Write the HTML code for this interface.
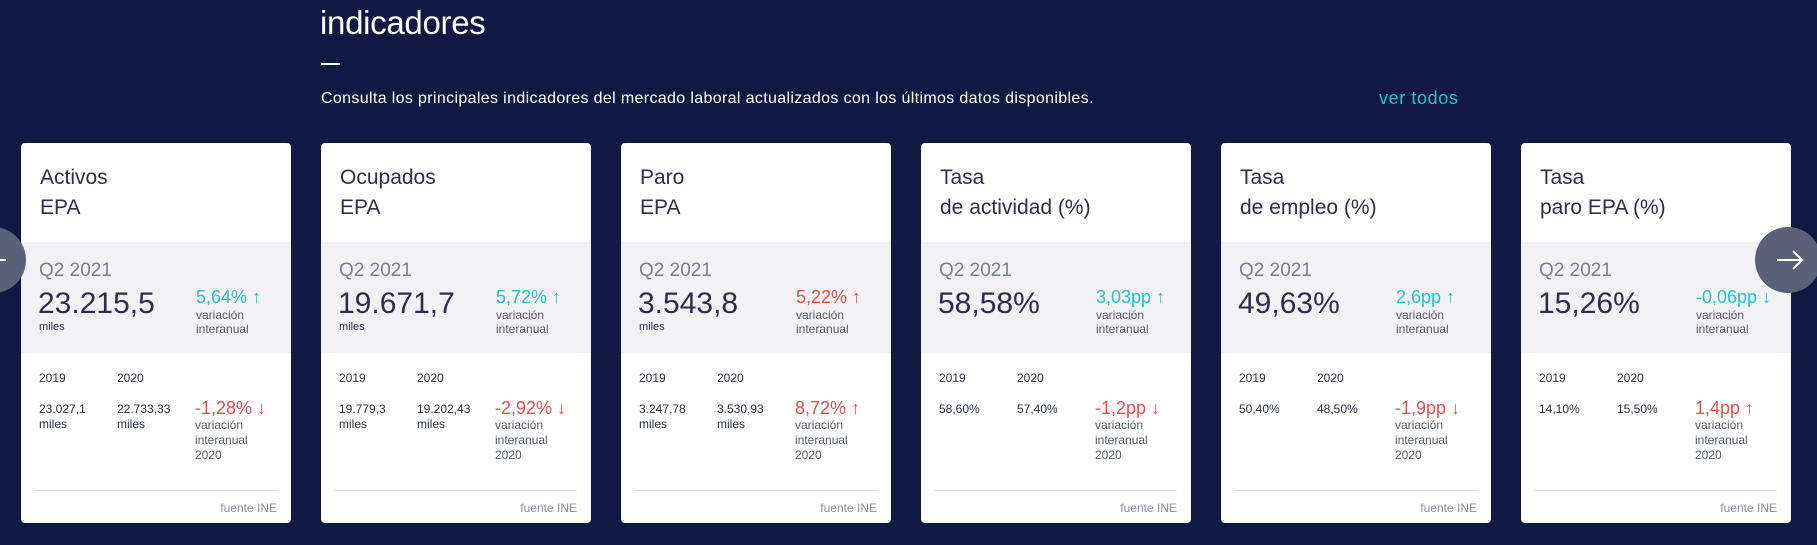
<!DOCTYPE html>
<html><head><meta charset="utf-8"><style>
*{margin:0;padding:0;box-sizing:border-box}
body{width:1817px;height:545px;background:#111943;font-family:"Liberation Sans",sans-serif;position:relative;overflow:hidden;color:#2b2f4c}
.h1{position:absolute;left:320px;top:4px;font-size:33px;color:#fff;letter-spacing:-0.3px}
.ul{position:absolute;left:321px;top:63px;width:19px;height:2px;background:#fff}
.sub{position:absolute;left:321px;top:90px;font-size:16px;letter-spacing:0.35px;color:#fff}
.ver{position:absolute;left:1379px;top:88px;font-size:18px;letter-spacing:0.6px;color:#22c4cf}
.card{position:absolute;top:143px;width:270px;height:380px;background:#fff;border-radius:4px;overflow:hidden}
.t{position:absolute;left:19px;top:20px;font-size:21px;line-height:30px}
.band{position:absolute;left:0;top:99px;width:270px;height:111px;background:#f2f2f5}
.q{position:absolute;left:18px;top:117px;font-size:19px;color:#7a7f92}
.big{position:absolute;left:17px;top:143px;font-size:30px;line-height:36px}
.mi{position:absolute;left:18px;top:178px;font-size:11px}
.v{position:absolute;left:175px;top:144px;font-size:18px;line-height:20px}
.vl{position:absolute;left:175px;top:165px;font-size:12px;line-height:14px;color:#555a70}
.y{position:absolute;top:228px;font-size:12px}
.val{position:absolute;top:259px;font-size:12px;line-height:15px}
.r{position:absolute;left:174px;top:255px;font-size:18px;line-height:20px;color:#f04c4c}
.rl{position:absolute;left:174px;top:275px;font-size:12px;line-height:15px;color:#555a70}
.ln{position:absolute;left:13px;top:347px;width:243px;height:1px;background:#e3e4e8}
.f{position:absolute;right:14px;top:358px;font-size:12px;color:#8a8ea0}
.tl{color:#22c4cf}
</style></head><body>
<div class="h1">indicadores</div><div class="ul"></div>
<div class="sub">Consulta los principales indicadores del mercado laboral actualizados con los últimos datos disponibles.</div>
<div class="ver">ver todos</div>

<div class="card" style="left:21px"><div class="t">Activos<br>EPA</div><div class="band"></div><div class="q">Q2 2021</div><div class="big">23.215,5</div><div class="mi">miles</div><div class="v tl">5,64% ↑</div><div class="vl">variación<br>interanual</div><div class="y" style="left:18px">2019</div><div class="y" style="left:96px">2020</div><div class="val" style="left:18px">23.027,1<br>miles</div><div class="val" style="left:96px">22.733,33<br>miles</div><div class="r">-1,28% ↓</div><div class="rl">variación<br>interanual<br>2020</div><div class="ln"></div><div class="f">fuente INE</div></div>

<div class="card" style="left:321px"><div class="t">Ocupados<br>EPA</div><div class="band"></div><div class="q">Q2 2021</div><div class="big">19.671,7</div><div class="mi">miles</div><div class="v tl">5,72% ↑</div><div class="vl">variación<br>interanual</div><div class="y" style="left:18px">2019</div><div class="y" style="left:96px">2020</div><div class="val" style="left:18px">19.779,3<br>miles</div><div class="val" style="left:96px">19.202,43<br>miles</div><div class="r">-2,92% ↓</div><div class="rl">variación<br>interanual<br>2020</div><div class="ln"></div><div class="f">fuente INE</div></div>

<div class="card" style="left:621px"><div class="t">Paro<br>EPA</div><div class="band"></div><div class="q">Q2 2021</div><div class="big">3.543,8</div><div class="mi">miles</div><div class="v" style="color:#f04c4c">5,22% ↑</div><div class="vl">variación<br>interanual</div><div class="y" style="left:18px">2019</div><div class="y" style="left:96px">2020</div><div class="val" style="left:18px">3.247,78<br>miles</div><div class="val" style="left:96px">3.530,93<br>miles</div><div class="r">8,72% ↑</div><div class="rl">variación<br>interanual<br>2020</div><div class="ln"></div><div class="f">fuente INE</div></div>

<div class="card" style="left:921px"><div class="t">Tasa<br>de actividad (%)</div><div class="band"></div><div class="q">Q2 2021</div><div class="big">58,58%</div><div class="v tl">3,03pp ↑</div><div class="vl">variación<br>interanual</div><div class="y" style="left:18px">2019</div><div class="y" style="left:96px">2020</div><div class="val" style="left:18px">58,60%</div><div class="val" style="left:96px">57,40%</div><div class="r">-1,2pp ↓</div><div class="rl">variación<br>interanual<br>2020</div><div class="ln"></div><div class="f">fuente INE</div></div>

<div class="card" style="left:1221px"><div class="t">Tasa<br>de empleo (%)</div><div class="band"></div><div class="q">Q2 2021</div><div class="big">49,63%</div><div class="v tl">2,6pp ↑</div><div class="vl">variación<br>interanual</div><div class="y" style="left:18px">2019</div><div class="y" style="left:96px">2020</div><div class="val" style="left:18px">50,40%</div><div class="val" style="left:96px">48,50%</div><div class="r">-1,9pp ↓</div><div class="rl">variación<br>interanual<br>2020</div><div class="ln"></div><div class="f">fuente INE</div></div>

<div class="card" style="left:1521px"><div class="t">Tasa<br>paro EPA (%)</div><div class="band"></div><div class="q">Q2 2021</div><div class="big">15,26%</div><div class="v tl">-0,06pp ↓</div><div class="vl">variación<br>interanual</div><div class="y" style="left:18px">2019</div><div class="y" style="left:96px">2020</div><div class="val" style="left:18px">14,10%</div><div class="val" style="left:96px">15,50%</div><div class="r">1,4pp ↑</div><div class="rl">variación<br>interanual<br>2020</div><div class="ln"></div><div class="f">fuente INE</div></div>

<div style="position:absolute;left:-40px;top:227px;width:66px;height:66px;border-radius:50%;background:#5a6078"></div>
<div style="position:absolute;left:0;top:259px;width:6px;height:2px;background:#fff"></div>
<div style="position:absolute;left:1755px;top:227px;width:66px;height:66px;border-radius:50%;background:#5a6078"></div>
<svg style="position:absolute;left:1775px;top:248px" width="30" height="24"><path d="M2 12H27M18 3L27 12L18 21" stroke="#fff" stroke-width="2" fill="none"/></svg>
</body></html>
